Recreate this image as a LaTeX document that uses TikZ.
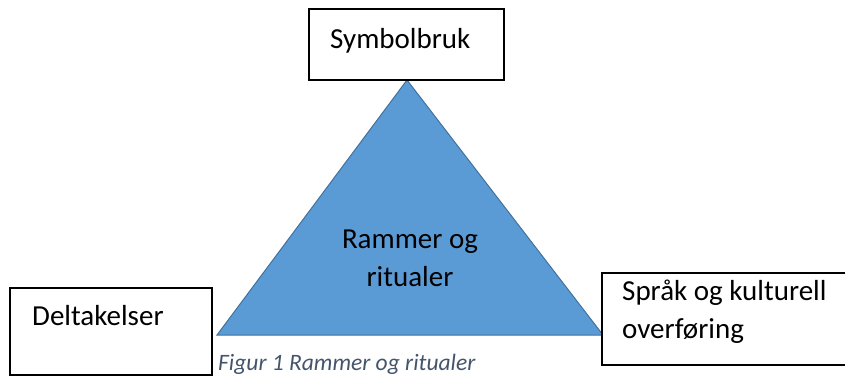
\documentclass[tikz,border=0pt]{standalone}
\usepackage{fontspec}
\setmainfont{Carlito}
\definecolor{triFill}{HTML}{5B9BD5}
\definecolor{triEdge}{HTML}{41719C}
\definecolor{capGray}{HTML}{44546A}
\tikzstyle{box} = [draw, line width=1.6pt, fill=white]
\tikzstyle{tri} = [draw=triEdge, fill=triFill, line width=1pt, line join=miter]
\tikzstyle{label text} = [inner sep=0pt, anchor=base west, align=left, font=\fontsize{29}{37.5}\selectfont]
\tikzstyle{caption} = [inner sep=0pt, anchor=base west, text=capGray, font=\fontsize{23.5}{28}\selectfont\itshape]
\def\boxNames{sym, del, spr}

\begin{document}
\begin{tikzpicture}[x=1pt, y=-1pt]
  \useasboundingbox (0,0) rectangle (845,376);

  \coordinate (apex) at (407,80);
  \coordinate (tri-left) at (217,335);
  \coordinate (tri-right) at (603,335);
  \path[tri] (apex) -- (tri-left) -- (tri-right) -- cycle;

  \coordinate (sym-nw) at (309,9);
  \coordinate (sym-se) at (504,80);
  \coordinate (del-nw) at (10,288);
  \coordinate (del-se) at (212,375);
  \coordinate (spr-nw) at (602,273);
  \coordinate (spr-se) at (850,365);

  \foreach \name in \boxNames {
    \path[box] (\name-nw) rectangle (\name-se);
    }

  % two-line nodes: base is the last line
  \node[label text] (sym-text) at (330,48) {Symbolbruk};
  \node[label text] (del-text) at (32,325) {Deltakelser};
  \node[label text] (spr-text) at (622,338) {Språk og kulturell\\overføring};
  \node[label text, anchor=base, align=center] (tri-text) at (410,286) {Rammer og\\ritualer};
  \node[caption] (cap) at (218,370) {Figur 1 Rammer og ritualer};

\end{tikzpicture}
\end{document}
